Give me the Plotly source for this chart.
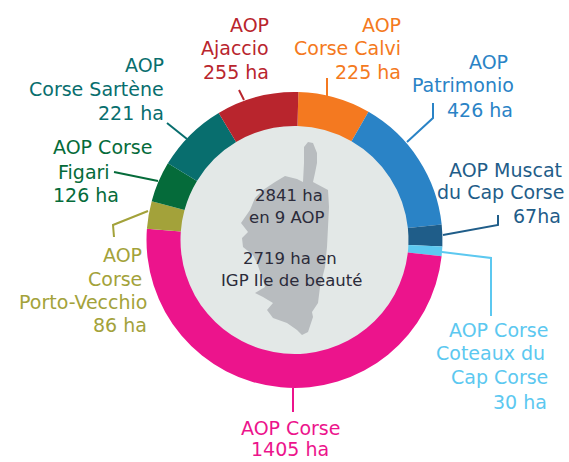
import plotly.graph_objects as go

# Data
categories = ["AOP Corse Calvi", "AOP Patrimonio", "AOP Muscat du Cap Corse",
              "AOP Corse Coteaux du Cap Corse", "AOP Corse", "AOP Corse Porto-Vecchio",
              "AOP Corse Figari", "AOP Corse Sartène", "AOP Ajaccio"]
hectares = [225, 426, 67, 30, 1405, 86, 126, 221, 255]
colors = ["#f47920", "#2a83c6", "#1f5d89", "#5cc8f0", "#ec148c", "#a3a23a", "#056b3a", "#086e6e", "#b9252d"]
center_lines = ["2841 ha", "en 9 AOP", "2719 ha en", "IGP Ile de beauté"]

W, H = 569, 462
CX, CY, R, RIN = 294.5, 240, 148, 114
FONT = "DejaVu Sans"
FS = 19

# (color, anchor, [(text, x, y), ...])
labels = [
    ("#f47920", "right", [("AOP", 402, 25), ("Corse Calvi", 402, 48), ("225 ha", 402, 72)]),
    ("#b9252d", "right", [("AOP", 270, 25), ("Ajaccio", 270, 48), ("255 ha", 270, 72)]),
    ("#2a83c6", "right", [("AOP", 509, 62), ("Patrimonio", 515, 85), ("426 ha", 514, 110)]),
    ("#1f5d89", "right", [("AOP Muscat", 563, 170), ("du Cap Corse", 565, 192), ("67ha", 562, 216)]),
    ("#5cc8f0", "right", [("AOP Corse", 549, 330), ("Coteaux du", 546, 353), ("Cap Corse", 549, 377), ("30 ha", 548, 402)]),
    ("#ec148c", "center", [("AOP Corse", 290, 428), ("1405 ha", 290, 449)]),
    ("#a3a23a", "right", [("AOP", 143, 255), ("Corse", 143, 279), ("Porto-Vecchio", 148, 302), ("86 ha", 148, 325)]),
    ("#056b3a", "left", [("AOP Corse", 52, 147), ("Figari", 57, 172), ("126 ha", 52, 195)]),
    ("#086e6e", "right", [("AOP", 165, 65), ("Corse Sartène", 165, 89), ("221 ha", 165, 113)]),
]
leaders = [
    ("#f47920", [(327, 78), (327, 98)]),
    ("#b9252d", [(239, 90), (244, 100)]),
    ("#2a83c6", [(407, 142), (433, 118), (433, 103)]),
    ("#1f5d89", [(443, 235), (498, 225), (498, 215)]),
    ("#5cc8f0", [(442, 252), (491, 258), (491, 316)]),
    ("#ec148c", [(293, 388), (293, 412)]),
    ("#a3a23a", [(148, 211), (113, 225), (114, 237)]),
    ("#056b3a", [(114, 172), (158, 181)]),
    ("#086e6e", [(167, 123), (187, 139)]),
]
corsica = [(308,142),(313,143),(317,153),(317,163),(315,173),(313,182),(328,190),(329,207),(328,227),
           (327,247),(325,267),(320,287),(318,303),(312,312),(313,317),(308,332),(302,335),(297,330),
           (287,323),(273,318),(267,310),(273,303),(263,297),(255,293),(265,287),(262,277),(257,263),
           (253,255),(243,247),(242,238),(248,232),(241,223),(250,210),(255,198),(263,190),(275,182),
           (285,176),(297,179),(303,182),(304,163),(304,147)]

def path(pts, close=False):
    s = "M" + " L".join(f"{x},{y}" for x, y in pts)
    return s + (" Z" if close else "")

fig = go.Figure()
fig.add_trace(go.Pie(
    labels=categories, values=hectares, sort=False, direction="clockwise", rotation=1.5,
    hole=RIN / R, marker=dict(colors=colors, line=dict(width=0)), textinfo="none", showlegend=False,
    hoverinfo="label+value",
    domain=dict(x=[(CX - R) / W, (CX + R) / W], y=[1 - (CY + R) / H, 1 - (CY - R) / H]),
))

shapes = [
    dict(type="circle", xref="x", yref="y", x0=CX - RIN - 1, x1=CX + RIN + 1, y0=CY - RIN - 1, y1=CY + RIN + 1,
         fillcolor="#e3e8e7", line=dict(width=0), layer="below"),
    dict(type="path", xref="x", yref="y", path=path(corsica, True), fillcolor="#b8bcbf",
         line=dict(width=0), layer="below"),
]
for col, pts in leaders:
    shapes.append(dict(type="path", xref="x", yref="y", path=path(pts),
                       line=dict(color=col, width=2), fillcolor="rgba(0,0,0,0)", layer="below"))

annotations = []
for col, anchor, lines in labels:
    for text, x, y in lines:
        annotations.append(dict(text=text, x=x, y=y, xref="x", yref="y", xanchor=anchor, yanchor="middle",
                                showarrow=False, borderpad=0, font=dict(family=FONT, size=FS, color=col)))
for text, x, y in zip(center_lines, [289, 287, 290, 291], [195, 217, 258, 280]):
    annotations.append(dict(text=text, x=x, y=y, xref="x", yref="y", xanchor="center", yanchor="middle",
                            showarrow=False, borderpad=0, font=dict(family=FONT, size=16.5, color="#2b2b3a")))

fig.update_layout(
    width=W, height=H, margin=dict(l=0, r=0, t=0, b=0), autosize=False,
    paper_bgcolor="white", plot_bgcolor="white",
    xaxis=dict(range=[0, W], visible=False, fixedrange=True),
    yaxis=dict(range=[H, 0], visible=False, fixedrange=True),
    shapes=shapes, annotations=annotations,
)
fig.add_trace(go.Scatter(x=[0, W], y=[0, H], mode="markers", marker=dict(opacity=0), hoverinfo="skip", showlegend=False))
fig.write_html("out.html", config=dict(displayModeBar=False),
               post_script="document.body.style.margin='0';document.documentElement.style.overflow='hidden';")
